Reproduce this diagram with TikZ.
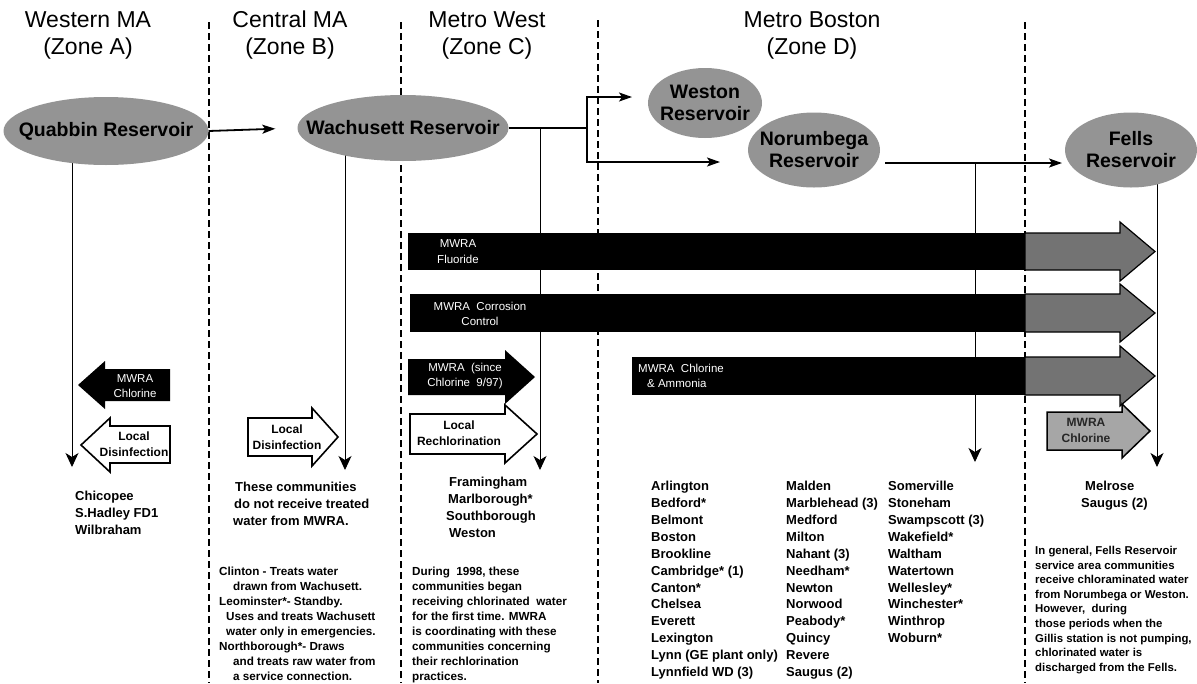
\documentclass[tikz,border=0pt]{standalone}
\usepackage{fontspec}
\setmainfont{Liberation Sans}
\usetikzlibrary{arrows.meta,shapes.geometric,backgrounds}
\begin{document}
\begin{tikzpicture}[x=1pt,y=-1pt,
  hdr/.style={font=\fontsize{23}{27}\selectfont, align=center, inner sep=0pt},
  res/.style={ellipse, fill=black!42, inner sep=0pt},
  restxt/.style={inner sep=0pt, font=\bfseries\fontsize{19.5}{22}\selectfont, align=center},
  zonesep/.style={black, line width=1.8pt, dash pattern=on 7pt off 4pt},
  feed/.style={line width=1.8pt, -{Stealth[length=13pt,width=9pt,inset=3pt]}},
  drop/.style={line width=0.9pt, -{Stealth[length=14pt,width=13pt,inset=4pt]}},
  list/.style={anchor=north west, inner sep=0pt, align=left, font=\bfseries\fontsize{13}{16.9}\selectfont},
  note/.style={anchor=north west, inner sep=0pt, align=left, font=\bfseries\fontsize{11.7}{15}\selectfont},
  wtxt/.style={text=white, font=\fontsize{11.5}{15.5}\selectfont, align=center, inner sep=0pt},
  btxt/.style={font=\bfseries\fontsize{12}{16}\selectfont, align=center, inner sep=0pt},
  shadearrow/.style={fill=black!55, draw=black, line width=1.2pt},
  whitearrow/.style={fill=white, draw=black, line width=1.6pt},
]
\useasboundingbox (0,0) rectangle (1197,683);
\begin{scope}[on background layer]
\fill[white] (0,0) rectangle (1197,683);
\end{scope}

% zone separators
\draw[zonesep] (209,22) -- (209,683);
\draw[zonesep] (401,22) -- (401,683);
\draw[zonesep] (598,20) -- (598,683);
\draw[zonesep] (1025,22) -- (1025,683);

% headers
\node[hdr] (hA) at (88,35) {Western MA\\(Zone A)};
\node[hdr] (hB) at (290,35) {Central MA\\(Zone B)};
\node[hdr] (hC) at (487,35) {Metro West\\(Zone C)};
\node[hdr] (hD) at (812,35) {Metro Boston\\(Zone D)};

% reservoirs
\node[res, minimum width=205, minimum height=68] (quab) at (106,131) {};
\node[res, minimum width=211, minimum height=66] (wach) at (403,128) {};
\node[res, minimum width=114, minimum height=70] (west) at (705,103) {};
\node[res, minimum width=132, minimum height=75] (noru) at (814,150) {};
\node[res, minimum width=132, minimum height=75] (fell) at (1131,150) {};
\node[restxt] (tquab) at (quab) {Quabbin Reservoir};
\node[restxt] (twach) at (wach) {Wachusett Reservoir};
\node[restxt] (twest) at (west) {Weston\\Reservoir};
\node[restxt] (tnoru) at (noru) {Norumbega\\Reservoir};
\node[restxt] (tfell) at (fell) {Fells\\Reservoir};

% coordinates
\coordinate (br) at (587,128);
\coordinate (wa) at (632,97);
\coordinate (na) at (720,162);
\coordinate (nf) at (885,163);
\coordinate (fa) at (1062,163);
\coordinate (d1) at (72,467);
\coordinate (d2) at (345,470);
\coordinate (d3) at (540,470);
\coordinate (d4) at (975,462);
\coordinate (d5) at (1157,467);

\begin{scope}[on background layer]
\draw[drop] (quab.center -| d1) -- (d1);
\draw[drop] (wach.center -| d2) -- (d2);
\draw[drop] (br -| d3) -- (d3);
\draw[drop] (nf -| d4) -- (d4);
\draw[drop] (fell.center -| d5) -- (d5);
\end{scope}

% feeds
\draw[feed, shorten >=22pt] (quab.east) -- (wach.west);
\draw[line width=1.8pt] (wach.east) -- (br);
\draw[feed] (br) |- (wa);
\draw[feed] (br) |- (na);
\draw[feed] (nf) -- (fa);

% long bars
\fill[black] (408,233) rectangle (1025,270);
\draw[shadearrow] (1025,233) -- (1120,233) -- (1120,222) -- (1155,251.5) -- (1120,281) -- (1120,270) -- (1025,270) -- cycle;
\node[wtxt] (tfl) at (458,251.5) {MWRA\\Fluoride};

\fill[black] (410,294) rectangle (1025,332);
\draw[shadearrow] (1025,294) -- (1120,294) -- (1120,284) -- (1155,313) -- (1120,342) -- (1120,332) -- (1025,332) -- cycle;
\node[wtxt] (tcc) at (480,314) {MWRA\ \ Corrosion\\Control};

\fill[black] (632,357) rectangle (1025,395);
\draw[shadearrow] (1025,357) -- (1120,357) -- (1120,346) -- (1155,376) -- (1120,406) -- (1120,395) -- (1025,395) -- cycle;
\node[wtxt, align=left, anchor=west] (tca) at (638,376) {MWRA\ \ Chlorine\\\hspace*{9pt}\& Ammonia};

% zone E small arrow
\draw[fill=black!35, draw=black, line width=1.5pt] (1047,412) -- (1122,412) -- (1122,404) -- (1150,431) -- (1122,458) -- (1122,450) -- (1047,450) -- cycle;
\node[btxt, text=black!85] (tec) at (1086,430) {MWRA\\Chlorine};

% zone C arrows
\fill[black] (408,359) -- (505,359) -- (505,350) -- (535,377) -- (505,404) -- (505,395) -- (408,395) -- cycle;
\node[wtxt] (tsi) at (465,376) {MWRA\ \ (since\\Chlorine\ \ 9/97)};
\draw[whitearrow] (410,414) -- (505,414) -- (505,405) -- (537,434) -- (505,463) -- (505,454) -- (410,454) -- cycle;
\node[btxt] (tlr) at (459,433) {Local\\Rechlorination};

% zone B arrow
\draw[whitearrow] (248,418) -- (312,418) -- (312,408) -- (338,437) -- (312,466) -- (312,456) -- (248,456) -- cycle;
\node[btxt] (tbd) at (287,437) {Local\\Disinfection};

% zone A arrows
\fill[black] (170,369) -- (105,369) -- (105,361) -- (78,385) -- (105,409) -- (105,401) -- (170,401) -- cycle;
\node[wtxt] (tac) at (135,386) {MWRA\\Chlorine};
\draw[whitearrow] (170,426) -- (110,426) -- (110,418) -- (81,445) -- (110,472) -- (110,463) -- (170,463) -- cycle;
\node[btxt] (tad) at (134,444) {Local\\Disinfection};

% community lists
\node[list] (lA) at (75,491) {Chicopee\\S.Hadley FD1\\Wilbraham};
\node[list] (lB) at (233,482) {\hspace*{2pt}These communities\\\hspace*{1pt}do not receive treated\\water from MWRA.};
\node[list] (lC) at (446,477) {\hspace*{3pt}Framingham\\\hspace*{2pt}Marlborough*\\Southborough\\\hspace*{3pt}Weston};
\node[list] (lD1) at (651,481) {Arlington\\Bedford*\\Belmont\\Boston\\Brookline\\Cambridge* (1)\\Canton*\\Chelsea\\Everett\\Lexington\\Lynn (GE plant only)\\Lynnfield WD (3)};
\node[list] (lD2) at (786,481) {Malden\\Marblehead (3)\\Medford\\Milton\\Nahant (3)\\Needham*\\Newton\\Norwood\\Peabody*\\Quincy\\Revere\\Saugus (2)};
\node[list] (lD3) at (888,481) {Somerville\\Stoneham\\Swampscott (3)\\Wakefield*\\Waltham\\Watertown\\Wellesley*\\Winchester*\\Winthrop\\Woburn*};
\node[list] (lE) at (1081,481) {\hspace*{4pt}Melrose\\Saugus (2)};

% notes
\node[note] (nB) at (219,567) {Clinton - Treats water\\\hspace*{14pt}drawn from Wachusett.\\Leominster*- Standby.\\\hspace*{7pt}Uses and treats Wachusett\\\hspace*{7pt}water only in emergencies.\\Northborough*- Draws\\\hspace*{14pt}and treats raw water from\\\hspace*{14pt}a service connection.};
\node[note] (nC) at (412,567) {During\ \ 1998, these\\communities began\\receiving chlorinated\ \ water\\for the first time. MWRA\\is coordinating with these\\communities concerning\\their rechlorination\\practices.};
\node[note, font=\bfseries\fontsize{11.4}{14.6}\selectfont] (nE) at (1035,546) {In general, Fells Reservoir\\service area communities\\receive chloraminated water\\from Norumbega or Weston.\\However,\ \ during\\those periods when the\\Gillis station is not pumping,\\chlorinated water is\\discharged from the Fells.};
\end{tikzpicture}
\end{document}
